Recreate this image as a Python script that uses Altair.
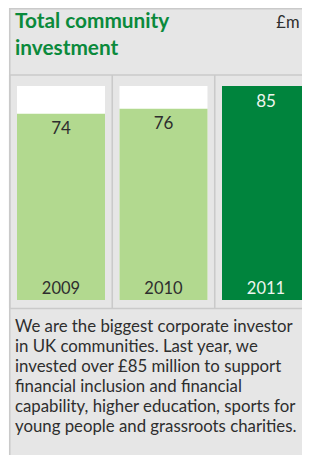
import altair as alt
import pandas as pd

# ---- data ----
years = ["2009", "2010", "2011"]
values = [74, 76, 85]
title_lines = ["Total community", "investment"]
unit_label = "£m"
note_lines = [
    "We are the biggest corporate investor",
    "in UK communities. Last year, we",
    "invested over £85 million to support",
    "financial inclusion and financial",
    "capability, higher education, sports for",
    "young people and grassroots charities.",
]

df = pd.DataFrame({"year": years, "value": values})
title_df = pd.DataFrame({"t": ["\n".join(title_lines)]})
unit_df = pd.DataFrame({"t": [unit_label]})
note_df = pd.DataFrame({"t": ["\n".join(note_lines)]})
one = pd.DataFrame({"k": [0]})

# ---- styling ----
W, H = 292.5, 447
PANEL = "#e6e6e6"
LINE = "#cacaca"
LIGHT = "#b2d98f"
DARK = "#00843d"
GREEN_TEXT = "#0b8a3c"
INK = "#2e2e2e"
FONT = "Lato"

xs = alt.Scale(domain=years, range=[7.5, 300.5], paddingInner=0.1415, paddingOuter=0)
ys = alt.Scale(domain=[0, 85], range=[292, 78])
last = f"datum.year == '{years[-1]}'"

X = alt.X("year:N", scale=xs, axis=None)

base = alt.Chart(df)

backing = base.transform_joinaggregate(vmax="max(value)").mark_bar(color="white").encode(
    x=X, y=alt.Y("vmax:Q", scale=ys, axis=None)
)

bars = base.mark_bar().encode(
    x=X,
    y=alt.Y("value:Q", scale=ys, axis=None),
    color=alt.condition(last, alt.value(DARK), alt.value(LIGHT)),
)

value_labels = base.mark_text(
    font=FONT, fontSize=17, baseline="alphabetic", dy=20.5
).encode(
    x=alt.X("year:N", scale=xs, axis=None, bandPosition=0.5),
    y=alt.Y("value:Q", scale=ys, axis=None),
    text=alt.Text("value:Q"),
    color=alt.condition(last, alt.value("#eef5ef"), alt.value(INK)),
)

year_labels = base.mark_text(
    font=FONT, fontSize=16.5, baseline="alphabetic", dy=-6
).encode(
    x=alt.X("year:N", scale=xs, axis=None, bandPosition=0.5),
    y=alt.datum(0, scale=ys),
    text=alt.Text("year:N"),
    color=alt.condition(last, alt.value("#eef5ef"), alt.value(INK)),
)

dividers = base.mark_rule(color=LINE, strokeWidth=1.6, xOffset=-7.25).encode(
    x=alt.X("year:N", scale=xs, axis=None, bandPosition=0),
    y=alt.value(67),
    y2=alt.value(300.5),
)


def hline(yv):
    return alt.Chart(one).mark_rule(color=LINE, strokeWidth=1.6).encode(
        x=alt.value(0.25), x2=alt.value(W), y=alt.value(yv)
    )


left_border = alt.Chart(one).mark_rule(color=LINE, strokeWidth=1.6).encode(
    x=alt.value(0.25), y=alt.value(0), y2=alt.value(H)
)

title_text = alt.Chart(title_df).mark_text(
    font=FONT, fontSize=20.8, fontWeight="bold", color=GREEN_TEXT,
    align="left", baseline="alphabetic", lineBreak="\n", lineHeight=27,
).encode(x=alt.value(5.5), y=alt.value(20), text="t:N")

unit_text = alt.Chart(unit_df).mark_text(
    font=FONT, fontSize=16.5, color=INK, align="right", baseline="alphabetic",
).encode(x=alt.value(290), y=alt.value(20), text="t:N")

note_text = alt.Chart(note_df).mark_text(
    font=FONT, fontSize=16.8, color=INK, align="left", baseline="alphabetic",
    lineBreak="\n", lineHeight=20,
).encode(x=alt.value(5.5), y=alt.value(324), text="t:N")

chart = alt.layer(
    backing, bars, dividers, hline(0.8), hline(67), hline(300.5), left_border,
    value_labels, year_labels, title_text, unit_text, note_text,
).properties(
    width=W, height=H,
    padding={"left": 1.5, "top": 0, "right": 0, "bottom": 0},
    autosize="none",
    background="white",
).configure_view(fill=PANEL, strokeWidth=0)

chart.save("out.html", embed_options={"renderer": "svg", "actions": False})
